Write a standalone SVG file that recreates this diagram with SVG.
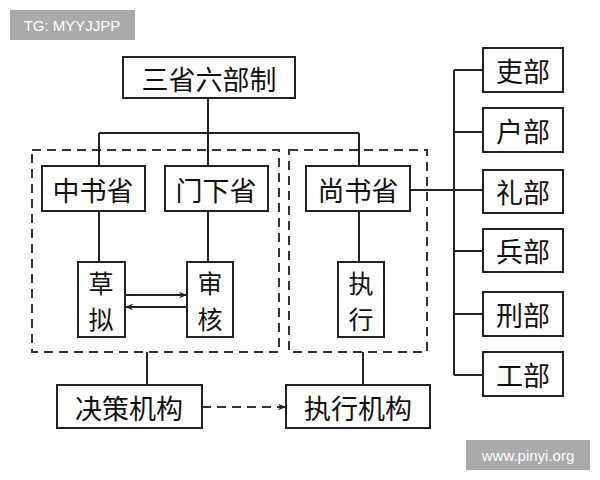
<svg xmlns="http://www.w3.org/2000/svg" width="600" height="480" viewBox="0 0 600 480">
<style>
.b{fill:#fff;stroke:#222;stroke-width:2}
.d{fill:none;stroke:#333;stroke-width:2;stroke-dasharray:9,6}
.l{fill:none;stroke:#222;stroke-width:2}
.t{font-family:"Noto Sans CJK SC",sans-serif;font-size:27px;fill:#111;text-anchor:middle;dominant-baseline:central}
.v{font-size:25px}
.w{font-family:"Liberation Sans",sans-serif;font-size:15px;fill:#fff;text-anchor:middle;dominant-baseline:central}
</style>
<defs><marker id="a" viewBox="0 0 10 10" refX="10" refY="5" markerWidth="8" markerHeight="8" markerUnits="userSpaceOnUse" orient="auto-start-reverse"><path d="M0,1 L10,5 L0,9 L3,5z" fill="#222"/></marker></defs>
<rect width="600" height="480" fill="#fff"/>
<g id="wm1"><rect x="10" y="10" width="125" height="30" fill="#aaa"/><text class="w" x="72" y="25">TG: MYYJJPP</text></g>
<g id="wm2"><rect x="466" y="440" width="124" height="30" fill="#aaa"/><text class="w" x="528" y="455">www.pinyi.org</text></g>
<g id="groups"><rect class="d" x="32" y="150" width="247" height="202"/><rect class="d" x="289" y="150" width="138" height="202"/></g>
<g id="connectors">
<path class="l" d="M208,98V133M99,133H359M99,133V166M208,133V166M359,133V166"/>
<path class="l" d="M99,211V262M208,211V262M359,211V262M147,352V385M363,352V385"/>
<path class="l" d="M410,190H454M454,70V375M454,70H483M454,132H483M454,190H483M454,251H483M454,314H483M454,375H483"/>
<path class="l" d="M125,295H187" stroke-width="1.5" marker-end="url(#a)"/>
<path class="l" d="M187,307H125" stroke-width="1.5" marker-end="url(#a)"/>
<path class="d" d="M202,407H286" stroke-dasharray="8,6" marker-end="url(#a)"/>
</g>
<g id="n0"><rect class="b" x="123" y="57" width="172" height="41"/><text class="t" x="209" y="78">三省六部制</text></g>
<g id="n1"><rect class="b" x="42" y="166" width="103" height="45"/><text class="t" x="93" y="189">中书省</text></g>
<g id="n2"><rect class="b" x="165" y="166" width="103" height="45"/><text class="t" x="216" y="189">门下省</text></g>
<g id="n3"><rect class="b" x="306" y="166" width="104" height="45"/><text class="t" x="358" y="189">尚书省</text></g>
<g id="n4"><rect class="b" x="78" y="262" width="47" height="75"/><text class="t v" x="101" y="282">草</text><text class="t v" x="101" y="318">拟</text></g>
<g id="n5"><rect class="b" x="187" y="262" width="46" height="75"/><text class="t v" x="210" y="282">审</text><text class="t v" x="210" y="318">核</text></g>
<g id="n6"><rect class="b" x="338" y="262" width="46" height="75"/><text class="t v" x="361" y="282">执</text><text class="t v" x="361" y="318">行</text></g>
<g id="n7"><rect class="b" x="57" y="385" width="145" height="43"/><text class="t" x="129" y="407">决策机构</text></g>
<g id="n8"><rect class="b" x="286" y="385" width="144" height="43"/><text class="t" x="358" y="407">执行机构</text></g>
<g id="p1"><rect class="b" x="483" y="48" width="80" height="44"/><text class="t" x="523" y="70">吏部</text></g>
<g id="p2"><rect class="b" x="483" y="108" width="80" height="44"/><text class="t" x="523" y="130">户部</text></g>
<g id="p3"><rect class="b" x="483" y="170" width="80" height="43"/><text class="t" x="523" y="191">礼部</text></g>
<g id="p4"><rect class="b" x="483" y="229" width="80" height="43"/><text class="t" x="523" y="250">兵部</text></g>
<g id="p5"><rect class="b" x="483" y="292" width="80" height="44"/><text class="t" x="523" y="314">刑部</text></g>
<g id="p6"><rect class="b" x="483" y="352" width="80" height="44"/><text class="t" x="523" y="374">工部</text></g>
</svg>
